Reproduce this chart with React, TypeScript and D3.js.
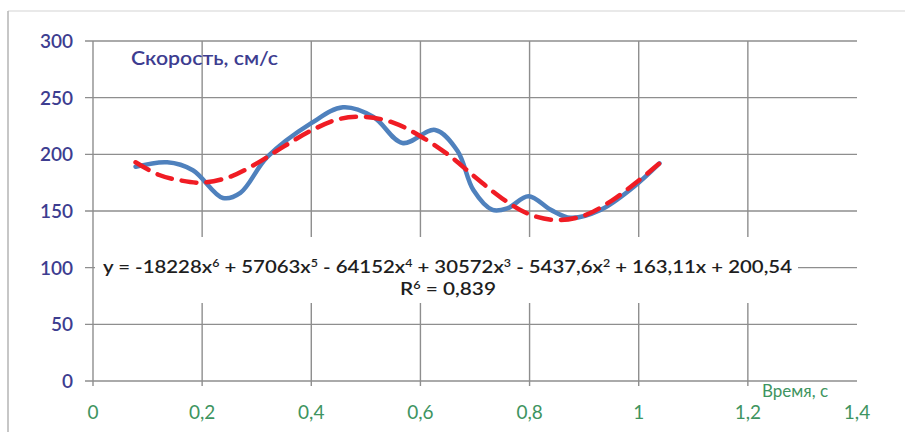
import * as d3 from 'd3'

// blue: measured speed (smoothed line)
const speedX = [0.078, 0.136, 0.183, 0.238, 0.27, 0.319, 0.4, 0.458, 0.514, 0.567, 0.627, 0.668, 0.697, 0.732, 0.76, 0.798, 0.839, 0.875, 0.93, 0.99, 1.038]
const speedY = [189, 193, 186, 161.5, 166, 197.5, 227.5, 241.5, 233, 210, 221.5, 203, 168.5, 151, 152.5, 163, 151, 144, 151, 171, 192]

// red: 6th order trendline
const trendX = [0.078, 0.12, 0.16, 0.2, 0.25, 0.3, 0.35, 0.4, 0.45, 0.5, 0.55, 0.6, 0.65, 0.7, 0.75, 0.8, 0.85, 0.9, 0.95, 1.0, 1.038]
const trendY = [193, 182, 177, 175, 180, 192, 207, 221, 231, 233, 228, 216, 200, 180, 161, 147, 142, 146, 159, 177, 192]

const xTicks = [0, 0.2, 0.4, 0.6, 0.8, 1, 1.2, 1.4]
const xTickLabels = ['0', '0,2', '0,4', '0,6', '0,8', '1', '1,2', '1,4']
const yTicks = [0, 50, 100, 150, 200, 250, 300]

// trendline equation: [text, superscript]
const eqParts: [string, string][] = [
  ['y = -18228x', '6'],
  [' + 57063x', '5'],
  [' - 64152x', '4'],
  [' + 30572x', '3'],
  [' - 5437,6x', '2'],
  [' + 163,11x + 200,54', ''],
]

const W = 905
const H = 432
const FONT = 'Lato, "Open Sans", sans-serif'
const GRID = '#8e8e8e'

export default function App() {
  const x = d3.scaleLinear().domain([0, 1.4]).range([93, 857])
  const y = d3.scaleLinear().domain([0, 300]).range([381, 41])

  const line = d3
    .line<[number, number]>()
    .x((d) => x(d[0]))
    .y((d) => y(d[1]))
    .curve(d3.curveCatmullRom.alpha(0.5))

  const speed = speedX.map((v, i) => [v, speedY[i]] as [number, number])
  const trend = trendX.map((v, i) => [v, trendY[i]] as [number, number])

  const eqSpans: JSX.Element[] = []
  eqParts.forEach(([a, s], i) => {
    eqSpans.push(
      <tspan key={'a' + i} dy={i > 0 && eqParts[i - 1][1] ? 6 : 0}>
        {a}
      </tspan>
    )
    if (s)
      eqSpans.push(
        <tspan key={'s' + i} fontSize={11} dy={-6}>
          {s}
        </tspan>
      )
  })

  return (
    <svg
      width={W}
      height={H}
      viewBox={`0 0 ${W} ${H}`}
      style={{ position: 'absolute', left: 0, top: 0, background: '#fff' }}
    >
      <rect x={0} y={0} width={W} height={H} fill="#fff" />
      {/* outer frame */}
      <line x1={8} x2={W} y1={11} y2={11} stroke="#e2e2e2" strokeWidth={1.5} />
      <line x1={8} x2={8} y1={11} y2={H} stroke="#b5b5b5" strokeWidth={1.5} />

      {/* horizontal grid */}
      {yTicks.map((t) => (
        <line key={'h' + t} x1={85} x2={x(1.4)} y1={y(t)} y2={y(t)} stroke={GRID} strokeWidth={1.4} />
      ))}
      {/* vertical grid */}
      {xTicks.slice(0, -1).map((t) => (
        <line key={'v' + t} x1={x(t)} x2={x(t)} y1={y(300)} y2={y(0) + 5} stroke={GRID} strokeWidth={1.4} />
      ))}

      {yTicks.map((t) => (
        <text
          key={'yl' + t}
          x={73}
          y={y(t) + 7}
          textAnchor="end"
          fontFamily={FONT}
          fontSize={19}
          fontWeight={600}
          fill="#3d3d90"
        >
          {t}
        </text>
      ))}
      {xTicks.map((t, i) => (
        <text
          key={'xl' + t}
          x={x(t)}
          y={419}
          textAnchor="middle"
          fontFamily={FONT}
          fontSize={19}
          fill="#3e9460"
        >
          {xTickLabels[i]}
        </text>
      ))}

      <text x={131} y={65} fontFamily={FONT} fontSize={19} fontWeight={600} fill="#3d3d90" textLength={147} lengthAdjust="spacingAndGlyphs">
        Скорость, см/с
      </text>
      <text x={762} y={397} fontFamily={FONT} fontSize={17} fill="#3e9460">
        Время, с
      </text>

      {/* trendline label box hides the grid behind it */}
      <rect x={95} y={237} width={703} height={66} fill="#fff" />
      <text
        x={103}
        y={273}
        fontFamily={FONT}
        fontSize={18}
        fontWeight={600}
        fill="#1e1e1e"
        textLength={689}
        lengthAdjust="spacingAndGlyphs"
      >
        {eqSpans}
      </text>
      <text x={400} y={295} fontFamily={FONT} fontSize={18} fontWeight={600} fill="#1e1e1e" textLength={96} lengthAdjust="spacingAndGlyphs">
        <tspan>R</tspan>
        <tspan fontSize={11} dy={-6}>6</tspan>
        <tspan dy={6}> = 0,839</tspan>
      </text>

      <path d={line(speed) ?? ''} fill="none" stroke="#4f81bd" strokeWidth={4.5} strokeLinecap="round" />
      <path
        d={line(trend) ?? ''}
        fill="none"
        stroke="#f01c24"
        strokeWidth={4.5}
        strokeLinecap="round"
        strokeDasharray="15 10"
      />
    </svg>
  )
}
